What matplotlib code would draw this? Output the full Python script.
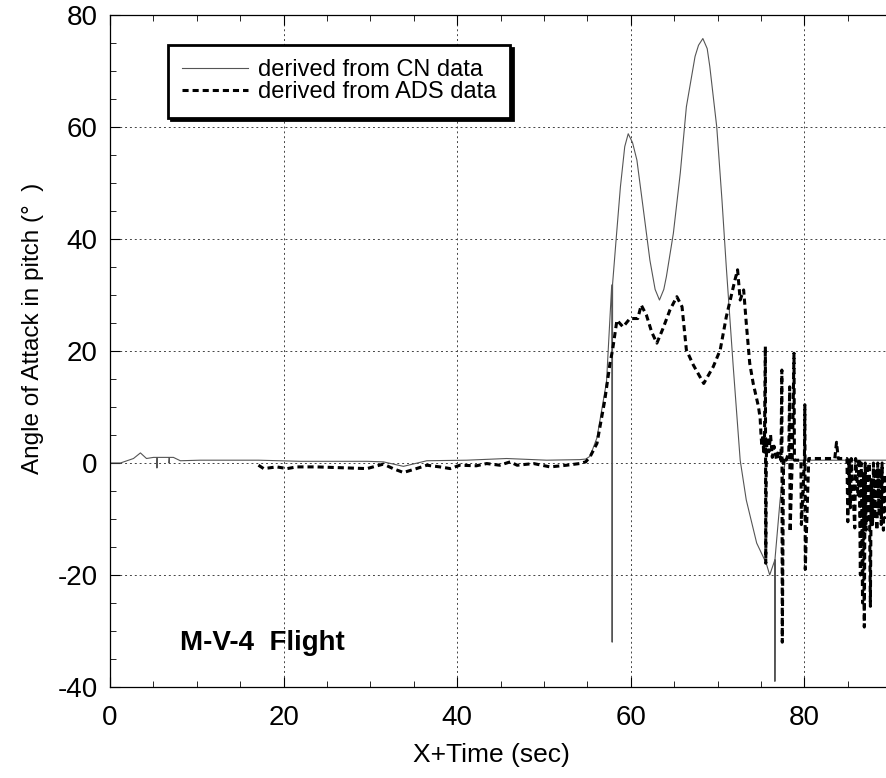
import matplotlib
matplotlib.use("Agg")
import matplotlib.pyplot as plt
from matplotlib.ticker import MultipleLocator

plt.rcParams['font.family'] = ['Liberation Sans', 'DejaVu Sans']
plt.rcParams['axes.unicode_minus'] = False

# angle of attack derived from CN data (time, deg)
cn_t = [0.0, 1.2, 2.7, 3.5, 4.2, 5.0, 5.4, 5.4, 5.45, 6.5, 6.8, 6.8, 6.85, 7.3, 8.1,
        10.4, 17.1, 21.9, 29.6, 31.5, 33.8, 36.5, 41.1, 45.7, 50.3, 54.1, 54.8,
        55.3, 56.1, 57.2, 57.8, 57.85, 57.9, 58.3, 58.8, 59.3, 59.7, 60.2, 60.7, 61.4,
        62.2, 62.8, 63.3, 63.8, 64.1, 64.9, 65.7, 66.4, 67.4, 67.8, 68.3, 68.8, 69.1,
        69.9, 70.5, 71.0, 71.8, 72.6, 73.3, 74.5, 75.6, 76.0, 76.6, 76.6, 76.62, 77.2,
        77.8, 78.5, 80.0, 85.0, 89.4]
cn_a = [0.0, 0.0, 0.8, 1.8, 0.8, 1.0, 1.0, -0.9, 1.0, 1.0, 1.0, 0.0, 1.0, 1.0, 0.4,
        0.5, 0.5, 0.3, 0.3, 0.2, -0.6, 0.4, 0.5, 0.8, 0.5, 0.6, 0.7,
        1.2, 4.5, 14.5, 31.8, -32.0, 32.0, 39.8, 49.3, 56.5, 58.8, 57.2, 54.1, 45.8,
        36.2, 31.0, 29.1, 31.0, 33.3, 41.0, 51.8, 63.6, 72.6, 74.6, 75.8, 74.0, 70.8,
        60.0, 47.0, 35.0, 17.2, 0.5, -6.6, -14.3, -17.9, -20.0, -17.3, -39.0, -17.0, -6.6,
        0.5, 0.5, 0.5, 0.5, 0.5]

# angle of attack derived from ADS data (time, deg)
ads_t = [17.1, 17.7, 19.2, 20.4, 21.5, 23.8, 25.7, 27.5, 29.6, 31.5, 32.6, 33.8,
         35.3, 36.5, 38.0, 39.2, 40.3, 42.2, 43.4, 44.9, 46.1, 46.9, 48.8, 50.7,
         52.6, 54.1, 54.8, 55.3, 56.1, 57.0, 57.6, 57.9, 58.4, 59.1, 59.9, 60.8,
         61.2, 61.8, 62.4, 63.0, 63.7, 64.5, 65.3, 65.9, 66.4, 67.2, 68.4, 69.5,
         70.3, 71.0, 72.0, 72.3, 72.6, 73.0, 73.3, 73.7, 74.1, 74.7, 74.9, 75.0,
         75.1, 75.2, 75.3, 75.4, 75.5, 75.55, 75.6, 75.7, 75.9, 76.1, 76.3, 76.5,
         76.8, 77.0, 77.3, 77.4, 77.45, 77.6, 77.9, 78.2, 78.3, 78.35, 78.6, 78.8,
         78.85, 79.2, 79.6, 79.65, 80.0, 80.05, 80.1, 80.5, 83.5, 83.7, 83.9,
         84.9, 85.0, 85.1, 85.3, 85.4, 85.8, 85.9, 86.2, 86.3, 86.45, 86.55, 86.7,
         86.8, 86.9, 87.0, 87.1, 87.2, 87.35, 87.45, 87.6, 87.7, 87.85, 87.95,
         88.1, 88.2, 88.35, 88.45, 88.6, 88.7, 88.85, 88.95, 89.1, 89.2, 89.35]
ads_a = [-0.4, -1.0, -0.7, -1.0, -0.7, -0.7, -0.8, -0.9, -1.0, -0.2, -1.0, -1.7,
         -1.0, -0.4, -0.7, -1.0, -0.4, -0.5, -0.1, -0.4, 0.2, -0.4, -0.1, -0.7,
         -0.4, -0.1, 0.2, 1.1, 3.5, 11.2, 17.8, 20.2, 25.5, 24.3, 25.8, 25.8,
         28.2, 26.4, 23.4, 21.4, 24.0, 27.3, 29.7, 27.9, 20.2, 17.5, 14.2, 17.2,
         20.2, 26.1, 32.7, 34.5, 29.1, 30.9, 25.0, 17.8, 14.2, 10.1, 8.0, 5.0,
         3.0, 5.0, 2.0, 4.0, 20.8, -17.9, 0.5, 4.5, 2.0, 5.0, 1.0, 3.0,
         0.5, 2.0, 0.5, 16.6, -32.0, 1.0, 0.5, 2.0, 13.6, -12.3, 0.5, 19.6,
         0.5, 0.5, 0.5, -11.0, 0.5, 10.4, -19.0, 0.8, 0.8, 3.7, 0.8,
         0.8, -10.5, 0.8, -8.0, 0.8, -11.6, 0.8, -6.0, 0.8, -20.0, 0.0, -25.0,
         -2.0, -29.3, 0.0, -12.0, -1.0, -10.0, 0.0, -25.6, -3.0, -11.0, 0.0,
         -10.0, -1.0, -12.0, 0.0, -9.0, -1.0, -11.0, 0.0, -12.0, -2.0, -10.0]

xticks = [0, 20, 40, 60, 80]
yticks = [-40, -20, 0, 20, 40, 60, 80]

fig = plt.figure(figsize=(8.86, 7.78), dpi=100)
ax = fig.add_axes([0.1242, 0.117, 0.8758, 0.8637])

ax.plot(cn_t, cn_a, color='#555555', lw=0.8, label='derived from CN data')
ax.plot(ads_t, ads_a, color='black', lw=2.2, linestyle=(0, (2.0, 1.3)),
        label='derived from ADS data')

ax.set_xlim(0, 89.4)
ax.set_ylim(-40, 80)
ax.set_xticks(xticks)
ax.set_yticks(yticks)
ax.xaxis.set_minor_locator(MultipleLocator(5))
ax.yaxis.set_minor_locator(MultipleLocator(5))
ax.tick_params(which='both', direction='in', top=True, right=False, labelsize=20)
ax.tick_params(which='major', length=7, width=0.8)
ax.tick_params(which='minor', length=4, width=0.6)
ax.tick_params(axis='x', pad=13)
ax.tick_params(axis='y', pad=9)
ax.grid(True, color='#444444', lw=0.7, linestyle=(0, (2, 3)))
ax.spines['right'].set_visible(False)
for s in ['left', 'bottom', 'top']:
    ax.spines[s].set_linewidth(0.9)

ax.set_xlabel('X+Time (sec)', fontsize=19, va='center')
ax.set_ylabel('Angle of Attack in pitch (°  )', fontsize=17.5, va='center')
ax.xaxis.set_label_coords(0.491, -0.101)
ax.yaxis.set_label_coords(-0.099, 0.534)

ax.text(8.1, -32.1, 'M-V-4  Flight', fontsize=20, fontweight='bold', va='center')

leg = ax.legend(loc='upper left', bbox_to_anchor=(0.0747, 0.955), fontsize=17,
                frameon=True, fancybox=False, handlelength=2.8, handletextpad=0.4,
                borderpad=0.6, labelspacing=0.0, borderaxespad=0,
                shadow={'color': 'black', 'alpha': 1.0})
leg.get_frame().set_edgecolor('black')
leg.get_frame().set_linewidth(2.0)
leg.get_frame().set_alpha(1.0)

fig.savefig('out.png', dpi=100)
